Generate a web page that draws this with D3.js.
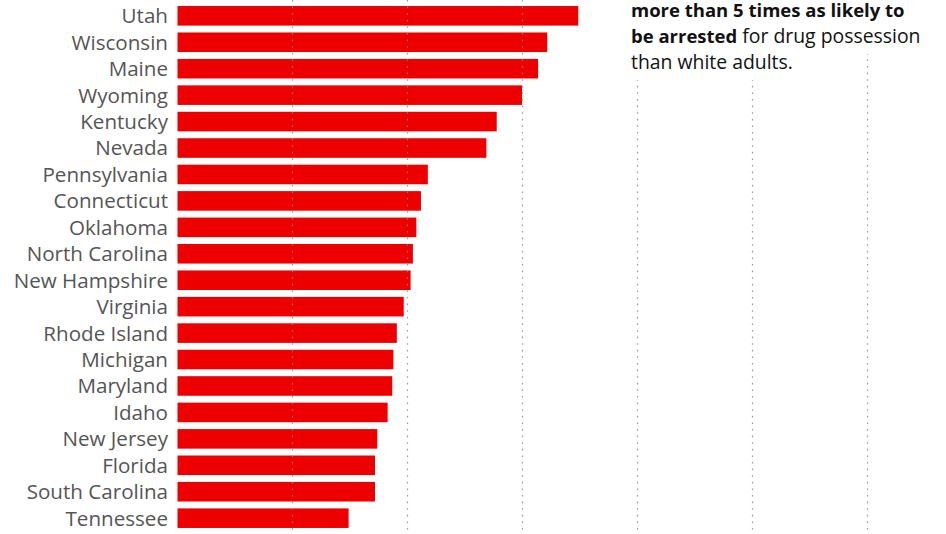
<!DOCTYPE html>
<html>
<head>
<meta charset="utf-8">
<script src="https://cdn.jsdelivr.net/npm/d3@7"></script>
<style>
  body { margin: 0; background: #fff; }
  svg { display: block; }
</style>
</head>
<body>
<div id="chart"></div>
<script>
// states, top to bottom
var states = ["Utah", "Wisconsin", "Maine", "Wyoming", "Kentucky", "Nevada",
  "Pennsylvania", "Connecticut", "Oklahoma", "North Carolina", "New Hampshire",
  "Virginia", "Rhode Island", "Michigan", "Maryland", "Idaho", "New Jersey",
  "Florida", "South Carolina", "Tennessee"];

// how many times as likely (black vs white adults)
var ratios = [3.49, 3.22, 3.14, 3.00, 2.78, 2.69,
  2.18, 2.12, 2.08, 2.05, 2.03,
  1.97, 1.91, 1.88, 1.87, 1.83, 1.74,
  1.72, 1.72, 1.49];

var gridTicks = [1, 2, 3, 4, 5, 6];

var noteLines = [
  [{t: "more than 5 times as likely to", b: true}],
  [{t: "be arrested", b: true}, {t: " for drug possession", b: false}],
  [{t: "than white adults.", b: false}]
];

var svgWidth = 946, svgHeight = 534;

var svg = d3.select("#chart")
  .append("svg")
  .attr("width", svgWidth)
  .attr("height", svgHeight);

var x = d3.scaleLinear()
  .domain([0, 6])
  .range([177.5, 866.5]);

var y = d3.scaleBand()
  .domain(states)
  .range([2.6, 531.4])
  .paddingInner(0.26)
  .paddingOuter(0.13);

// bars
svg.append("g")
  .selectAll("rect")
  .data(states)
  .enter()
  .append("rect")
  .attr("x", x(0))
  .attr("y", d => y(d))
  .attr("width", (d, i) => x(ratios[i]) - x(0))
  .attr("height", y.bandwidth())
  .attr("fill", "#ec0000");

// dotted grid lines, drawn over the bars
svg.append("g")
  .selectAll("line")
  .data(gridTicks)
  .enter()
  .append("line")
  .attr("x1", d => Math.round(x(d)) + 0.5)
  .attr("x2", d => Math.round(x(d)) + 0.5)
  .attr("y1", 0)
  .attr("y2", 530)
  .attr("stroke", "#888")
  .attr("stroke-opacity", 0.85)
  .attr("stroke-width", 1.2)
  .attr("stroke-dasharray", "1.6,5");

// state labels
svg.append("g")
  .selectAll("text")
  .data(states)
  .enter()
  .append("text")
  .attr("x", 168)
  .attr("y", d => y(d) + y.bandwidth() / 2)
  .attr("dy", "0.36em")
  .attr("text-anchor", "end")
  .style("font-family", "'Open Sans', sans-serif")
  .style("font-size", "20.6px")
  .style("fill", "#555")
  .text(d => d);

// annotation, with a white box behind each line
var note = svg.append("g");
var noteX = 631, baseY = 17, lineH = 26;

noteLines.forEach(function(parts, i) {
  var by = baseY + i * lineH;
  var bg = note.append("rect").attr("fill", "#fff");
  var txt = note.append("text")
    .attr("x", noteX)
    .attr("y", by)
    .style("font-family", "'Open Sans', sans-serif")
    .style("fill", "#111");
  parts.forEach(function(p) {
    txt.append("tspan")
      .style("font-weight", p.b ? "700" : "400")
      .style("font-size", p.b ? "18.5px" : "19.4px")
      .text(p.t);
  });
  var w = txt.node().getComputedTextLength();
  bg.attr("x", noteX - 6)
    .attr("y", Math.max(0, by - 22))
    .attr("width", w + 12)
    .attr("height", by + 11 - Math.max(0, by - 22));
});
</script>
</body>
</html>
